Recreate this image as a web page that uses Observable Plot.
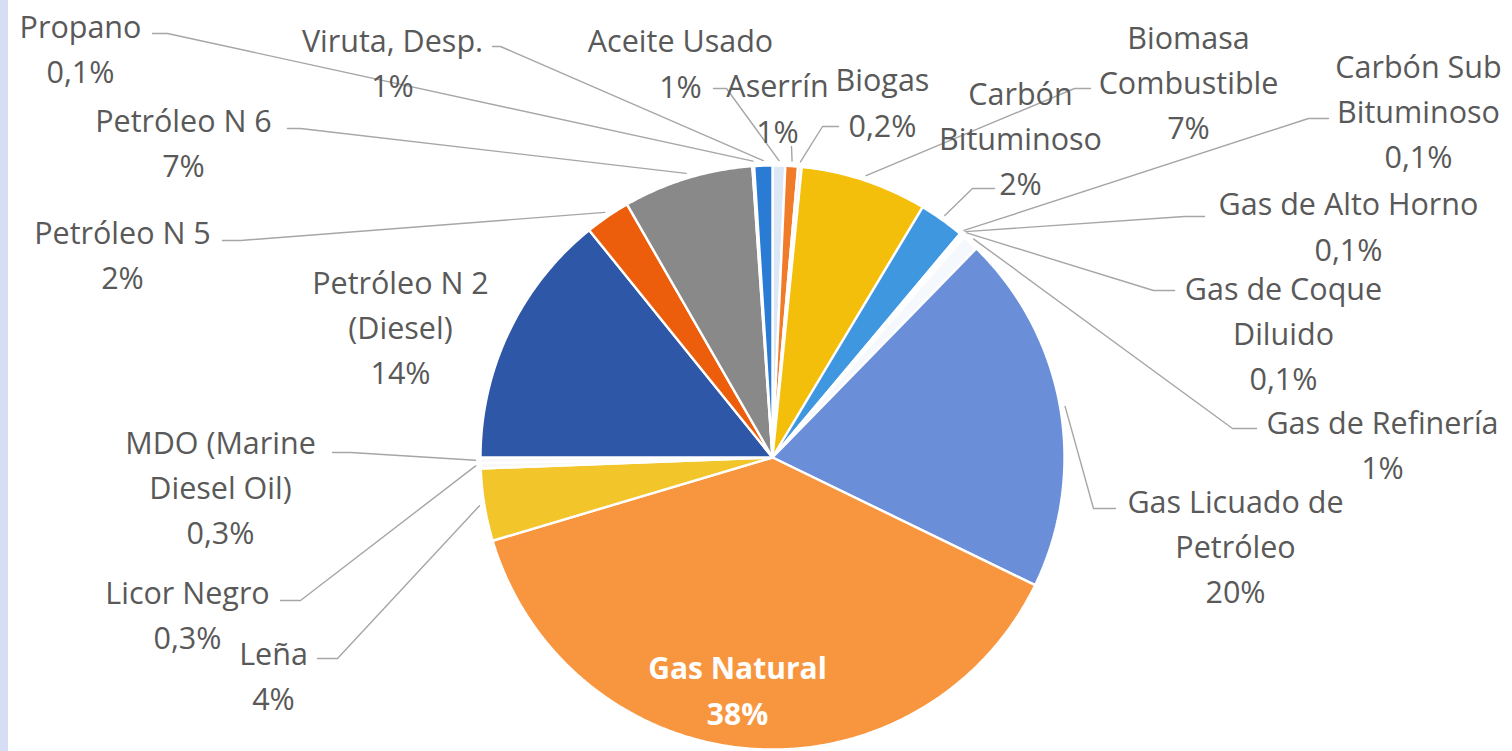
<!DOCTYPE html>
<html>
<head>
<meta charset="utf-8">
<script src="https://cdn.jsdelivr.net/npm/d3@7"></script>
<script src="https://cdn.jsdelivr.net/npm/@observablehq/plot@0.6"></script>
<style>
  html, body { margin: 0; padding: 0; background: #ffffff; }
  #wrap { position: relative; width: 1512px; height: 751px; overflow: hidden; }
  #strip { position: absolute; left: 0; top: 0; width: 8px; height: 751px; background: #d5def4; z-index: 2; }
  #chart svg { display: block; }
</style>
</head>
<body>
<div id="wrap"><div id="chart"></div><div id="strip"></div></div>
<script>
// ---- data ----
const categories = ["Aceite Usado","Aserrín","Biogas","Biomasa Combustible","Carbón Bituminoso","Carbón Sub Bituminoso","Gas de Alto Horno","Gas de Coque Diluido","Gas de Refinería","Gas Licuado de Petróleo","Gas Natural","Leña","Licor Negro","MDO (Marine Diesel Oil)","Petróleo N 2 (Diesel)","Petróleo N 5","Petróleo N 6","Propano","Viruta, Desp."];
const shares = [0.7, 0.7, 0.2, 7.0, 2.5, 0.1, 0.1, 0.1, 0.9, 19.9, 38.2, 4.0, 0.3, 0.3, 14.2, 2.5, 7.2, 0.1, 1.0];
const pctLabels = ["1%","1%","0,2%","7%","2%","0,1%","0,1%","0,1%","1%","20%","38%","4%","0,3%","0,3%","14%","2%","7%","0,1%","1%"];
const nameLines = ["Aceite Usado","Aserrín","Biogas","Biomasa\nCombustible","Carbón\nBituminoso","Carbón Sub\nBituminoso","Gas de Alto Horno","Gas de Coque\nDiluido","Gas de Refinería","Gas Licuado de\nPetróleo","Gas Natural","Leña","Licor Negro","MDO (Marine\nDiesel Oil)","Petróleo N 2\n(Diesel)","Petróleo N 5","Petróleo N 6","Propano","Viruta, Desp."];
const sliceColors = ["#dde8f6","#f07c2a","#f3f3f3","#f3bf0a","#3f98df","#9e480e","#636363","#1f6b2c","#f5f8fc","#6a8ed8","#f8963f","#f2c62b","#f8f8f8","#f8f8f8","#2e57a7","#ec5e0c","#898989","#f6f6f6","#2a7bd3"];

// ---- layout (positions in pixel space) ----
const pie = {cx: 772, cy: 457, r: 292};
const labelPos = [[680,60],[777,105],[882,99],[1188,79],[1020,135],[1418,108],[1348,223],[1283,330],[1382,441.5],[1235,543],[737,686.5],[273,672.5],[187,611.5],[220,484],[400,324],[122,251.5],[183,139.5],[80,45.5],[392,59.5]];
const leaderPts = [
  [[713,88],[726,88]],
  [[791,146]],
  [[838,126],[822,126]],
  [[1090,88],[1074,88]],
  [[994,188],[972,188]],
  [[1328,118],[1308,118]],
  [[1204,216],[1184,216]],
  [[1174,290],[1153,290]],
  [[1256,428],[1232,428]],
  [[1115,508],[1093,508]],
  null,
  [[317,658],[337,658]],
  [[280,600],[300,600]],
  [[332,452],[350,452]],
  null,
  [[222,240],[240,240]],
  [[287,128],[300,128]],
  [[152,33],[167,33]],
  [[492,46],[500,46]]
];

// ---- build geometry via d3.pie ----
const arcs = d3.pie().sort(null).value(d => d).startAngle(0).endAngle(2 * Math.PI)(shares);
const polar = (a, rr) => [pie.cx + rr * Math.sin(a), pie.cy - rr * Math.cos(a)];

const sliceRows = [];
arcs.forEach((a, i) => {
  const pts = [[pie.cx, pie.cy]];
  const n = Math.max(2, Math.ceil((a.endAngle - a.startAngle) / (Math.PI / 360)));
  for (let k = 0; k <= n; k++) {
    pts.push(polar(a.startAngle + (a.endAngle - a.startAngle) * k / n, pie.r));
  }
  pts.push([pie.cx, pie.cy]);
  pts.forEach(([x, y]) => sliceRows.push({name: categories[i], color: sliceColors[i], x, y}));
});

const leaderRows = [];
arcs.forEach((a, i) => {
  if (!leaderPts[i]) return;
  const mid = (a.startAngle + a.endAngle) / 2;
  const pts = [...leaderPts[i], polar(mid, pie.r + 5)];
  pts.forEach(([x, y]) => leaderRows.push({name: categories[i], x, y}));
});

const labelRows = categories.map((c, i) => ({
  name: c, text: nameLines[i] + "\n" + pctLabels[i], x: labelPos[i][0], y: labelPos[i][1], inside: c === "Gas Natural"
}));

const chart = Plot.plot({
  width: 1512,
  height: 751,
  margin: 0,
  style: {background: "transparent"},
  x: {domain: [0, 1512], range: [0, 1512], axis: null},
  y: {domain: [0, 751], range: [0, 751], axis: null},
  color: {type: "identity"},
  marks: [
    Plot.line(leaderRows, {x: "x", y: "y", z: "name", stroke: "#a6a6a6", strokeWidth: 1.4, curve: "linear"}),
    Plot.line(sliceRows, {x: "x", y: "y", z: "name", fill: "color", stroke: "white", strokeWidth: 2.4, strokeLinejoin: "miter", curve: "linear"}),
    Plot.text(labelRows.filter(d => !d.inside), {x: "x", y: "y", text: "text", fill: "#595959", fontSize: 30.5, lineHeight: 1.48, lineAnchor: "middle", textAnchor: "middle", fontFamily: "Open Sans"}),
    Plot.text(labelRows.filter(d => d.inside), {x: "x", y: "y", text: "text", fill: "white", fontSize: 30, fontWeight: "bold", lineHeight: 1.53, lineAnchor: "middle", textAnchor: "middle", fontFamily: "Open Sans"})
  ]
});
document.getElementById("chart").appendChild(chart);
</script>
</body>
</html>
